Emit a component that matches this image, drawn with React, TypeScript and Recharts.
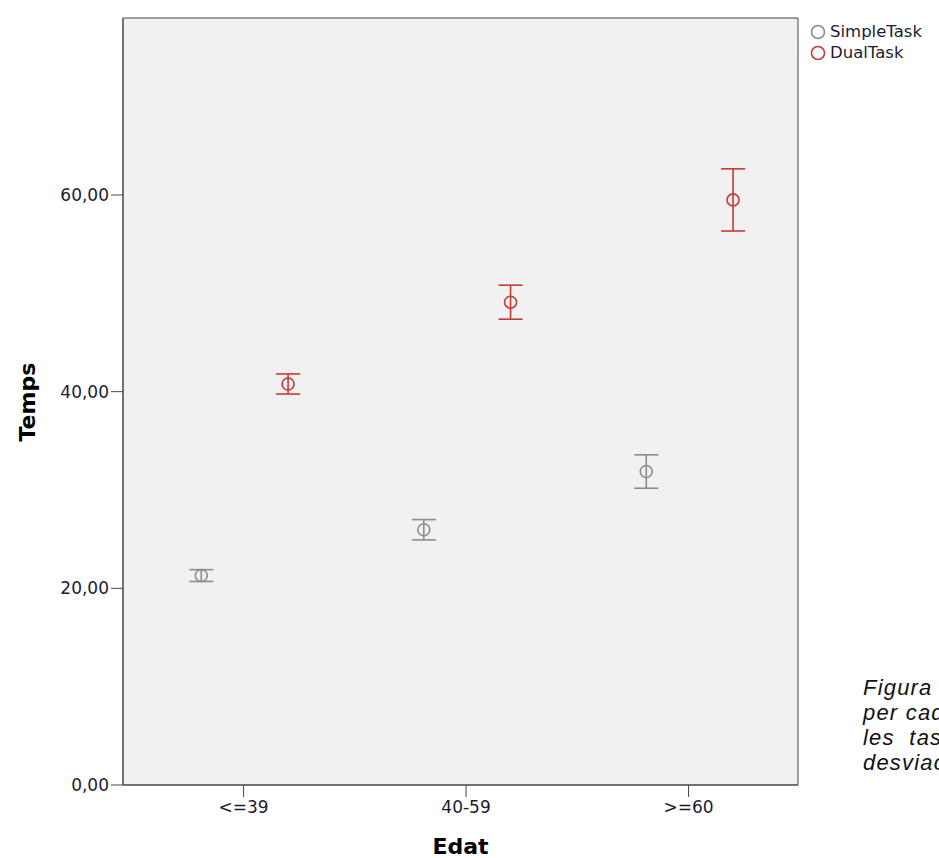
import React from 'react';
import { ScatterChart, Scatter, XAxis, YAxis, ErrorBar, ReferenceArea } from 'recharts';

const ageGroups = ['<=39', '40-59', '>=60'];
const simpleMeans = [21.3, 25.96, 31.88];
const simpleErrors = [0.6, 1.03, 1.7];
const dualMeans = [40.78, 49.1, 59.5];
const dualErrors = [1.02, 1.73, 3.16];
const yTicks = [0, 20, 40, 60];
const groupTicks = [0, 1, 2];

const GREY = '#8c8c8c';
const RED = '#c43a3a';
const FRAME = '#474747';
const TEXT = '#1c1c2e';
const X_DOMAIN: [number, number] = [-0.542, 2.492];
const Y_MAX = 78;

// dodge of each series inside its age group
const SIMPLE_SHIFT = -0.19;
const DUAL_SHIFT = 0.2;

const build = (means: number[], errors: number[], shift: number) =>
  means.map((m, i) => ({ x: i + shift, y: m, err: errors[i], group: ageGroups[i] }));

const simpleData = build(simpleMeans, simpleErrors, SIMPLE_SHIFT);
const dualData = build(dualMeans, dualErrors, DUAL_SHIFT);

const ring = (color: string) => (props: any) =>
  <circle cx={props.cx} cy={props.cy} r={6} fill="none" stroke={color} strokeWidth={1.6} />;

const fmtY = (v: number) => v.toFixed(2).replace('.', ',');

const series = [
  { name: 'SimpleTask', color: GREY },
  { name: 'DualTask', color: RED },
];

const LegendBox = () => (
  <div
    style={{
      position: 'absolute',
      left: 810,
      top: 21,
      fontFamily: 'DejaVu Sans',
      fontSize: 16.5,
      color: TEXT,
      lineHeight: '21px',
    }}
  >
    {series.map((s) => (
      <div key={s.name} style={{ display: 'flex', alignItems: 'center' }}>
        <svg width={16} height={16} style={{ marginRight: 4 }}>
          <circle cx={8} cy={8} r={6.5} fill="none" stroke={s.color} strokeWidth={1.6} />
        </svg>
        <span>{s.name}</span>
      </div>
    ))}
  </div>
);

const captionLines = ['Figura 1.', 'per cada grup', 'les  tasques', 'desviació'];

const App: React.FC = () => {
  return (
    <div style={{ position: 'absolute', left: 0, top: 0, width: 939, height: 858, overflow: 'hidden', background: '#fff' }}>
      <ScatterChart width={939} height={858} margin={{ top: 18, right: 141, bottom: 0, left: 0 }}>
        <XAxis
          type="number"
          dataKey="x"
          domain={X_DOMAIN}
          ticks={groupTicks}
          allowDataOverflow
          tickFormatter={(v: number) => ageGroups[v] ?? ''}
          height={73}
          stroke={FRAME}
          tickSize={12}
          tickMargin={4}
          tick={{ fill: TEXT, fontSize: 17, fontFamily: 'DejaVu Sans' }}
          label={{ value: 'Edat', position: 'insideBottom', offset: 4, fill: '#000', fontSize: 22, fontWeight: 'bold', fontFamily: 'DejaVu Sans' }}
        />
        <YAxis
          type="number"
          dataKey="y"
          domain={[0, Y_MAX]}
          ticks={yTicks}
          allowDataOverflow
          tickFormatter={fmtY}
          width={123}
          stroke={FRAME}
          tickSize={12}
          tickMargin={2}
          tick={{ fill: TEXT, fontSize: 17, fontFamily: 'DejaVu Sans' }}
          label={{ value: 'Temps', angle: -90, position: 'insideLeft', offset: 27, dy: 40, fill: '#000', fontSize: 22, fontWeight: 'bold', fontFamily: 'DejaVu Sans' }}
        />
        <ReferenceArea
          x1={X_DOMAIN[0]}
          x2={X_DOMAIN[1]}
          y1={0}
          y2={Y_MAX}
          fill="#f1f1f1"
          fillOpacity={1}
          stroke={FRAME}
          strokeWidth={1}
        />
        <Scatter name="SimpleTask" data={simpleData} shape={ring(GREY)} isAnimationActive={false}>
          <ErrorBar dataKey="err" direction="y" width={12} stroke={GREY} strokeWidth={1.6} isAnimationActive={false} />
        </Scatter>
        <Scatter name="DualTask" data={dualData} shape={ring(RED)} isAnimationActive={false}>
          <ErrorBar dataKey="err" direction="y" width={12} stroke={RED} strokeWidth={1.6} isAnimationActive={false} />
        </Scatter>
      </ScatterChart>
      <LegendBox />
      <div
        style={{
          position: 'absolute',
          left: 863,
          top: 675,
          fontFamily: 'Liberation Sans',
          fontStyle: 'italic',
          fontSize: 22,
          letterSpacing: 1.2,
          lineHeight: '25px',
          color: '#111',
          whiteSpace: 'pre',
        }}
      >
        {captionLines.map((l) => (
          <div key={l}>{l}</div>
        ))}
      </div>
    </div>
  );
};

export default App;
